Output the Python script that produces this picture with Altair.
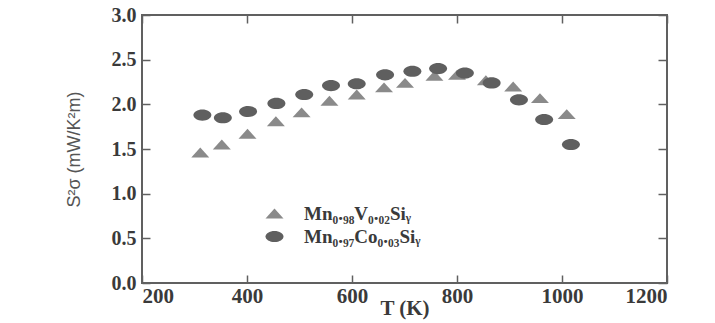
import altair as alt
import pandas as pd

# Data
T_V = [311, 352, 401, 455, 504, 557, 609, 661, 701, 757, 800, 855, 907, 958, 1009]
S_V = [1.46, 1.55, 1.67, 1.81, 1.91, 2.04, 2.11, 2.19, 2.24, 2.32, 2.33, 2.27, 2.20, 2.07, 1.89]
T_CO = [315, 354, 402, 456, 509, 560, 609, 663, 715, 764, 815, 866, 918, 966, 1017]
S_CO = [1.88, 1.85, 1.92, 2.01, 2.11, 2.21, 2.23, 2.33, 2.37, 2.40, 2.35, 2.24, 2.05, 1.83, 1.55]
SERIES = ["Mn₀.₉₈V₀.₀₂Siᵧ", "Mn₀.₉₇Co₀.₀₃Siᵧ"]
X_TICKS = [200, 400, 600, 800, 1000, 1200]
Y_TICKS = [0.0, 0.5, 1.0, 1.5, 2.0, 2.5, 3.0]
X_DOMAIN = [200, 1200]
Y_DOMAIN = [0.0, 3.0]

df = pd.DataFrame({
    "T": T_V + T_CO,
    "S": S_V + S_CO,
    "series": [SERIES[0]] * len(T_V) + [SERIES[1]] * len(T_CO),
})

# frame edges built from the axis domains
x0, x1 = X_DOMAIN
y0, y1 = Y_DOMAIN
edges = pd.DataFrame({
    "xa": [x0, x0, x0, x1], "xb": [x1, x1, x0, x1],
    "ya": [y0, y1, y0, y0], "yb": [y0, y1, y1, y1],
})

TRI = "M-1,0.55L1,0.55L0,-0.55Z"
ELL = ("M-1,0C-1,-0.342 -0.552,-0.62 0,-0.62C0.552,-0.62 1,-0.342 1,0"
       "C1,0.342 0.552,0.62 0,0.62C-0.552,0.62 -1,0.342 -1,0Z")

SERIF = "Liberation Serif"
TXT = "#3a3a3a"
FRAME = "#606060"
W, H = 525, 268

leg = alt.Legend(
    title=None, orient="none", legendX=123, legendY=189,
    labelFont=SERIF, labelFontWeight="bold", labelFontSize=19, labelColor=TXT,
    symbolSize=324, symbolStrokeWidth=0, labelOffset=20, rowPadding=3, padding=0,
)

xscale = alt.Scale(domain=X_DOMAIN, nice=False, zero=False)
yscale = alt.Scale(domain=Y_DOMAIN, nice=False)

frame = alt.Chart(edges).mark_rule(color=FRAME, strokeWidth=2, strokeCap="square").encode(
    x=alt.X("xa:Q", scale=xscale, axis=None),
    x2="xb:Q",
    y=alt.Y("ya:Q", scale=yscale, axis=None),
    y2="yb:Q",
)

points = alt.Chart(df).mark_point(filled=True, opacity=1, size=324, strokeWidth=0).encode(
    x=alt.X("T:Q", scale=xscale, axis=alt.Axis(
        orient="bottom", values=X_TICKS, format="d", offset=-8, tickSize=8,
        tickColor=FRAME, tickWidth=1.5, domain=False, grid=False,
        labelFont=SERIF, labelFontWeight="bold", labelFontSize=21, labelColor=TXT,
        labelPadding=2, title="T (K)", titleFont=SERIF, titleFontWeight="bold",
        titleFontSize=21, titleColor=TXT, titlePadding=-9)),
    y=alt.Y("S:Q", scale=yscale, axis=alt.Axis(
        orient="left", values=Y_TICKS, format=".1f", offset=-8, tickSize=8,
        tickColor=FRAME, tickWidth=1.5, domain=False, grid=False,
        labelFont=SERIF, labelFontWeight="bold", labelFontSize=20, labelColor=TXT,
        labelPadding=6, title="S²σ (mW/K²m)", titleFont="Liberation Sans",
        titleFontWeight="normal", titleFontSize=18, titleColor="#555555",
        titlePadding=28)),
    color=alt.Color("series:N", scale=alt.Scale(domain=SERIES, range=["#8a8a8a", "#5f5f5f"]), legend=leg),
    shape=alt.Shape("series:N", scale=alt.Scale(domain=SERIES, range=[TRI, ELL]), legend=leg),
)

mirror = alt.Chart(df).mark_point(opacity=0).encode(
    x=alt.X("T:Q", scale=xscale, axis=alt.Axis(
        orient="top", values=X_TICKS, offset=-8, tickSize=8, tickColor=FRAME,
        tickWidth=1.5, domain=False, grid=False, labels=False, title=None)),
    y=alt.Y("S:Q", scale=yscale, axis=alt.Axis(
        orient="right", values=Y_TICKS, offset=-9, tickSize=9, tickColor=FRAME,
        tickWidth=1.5, domain=False, grid=False, labels=False, title=None)),
)

chart = alt.layer(frame, points, mirror).resolve_axis(x="independent", y="independent").properties(
    width=W, height=H,
    background="white",
    autosize=alt.AutoSizeParams(type="none"),
    padding={"left": 134, "top": 7, "right": 40, "bottom": 40},
).configure_view(stroke=None)

chart.save("out.html", embed_options={"renderer": "svg", "actions": False})
